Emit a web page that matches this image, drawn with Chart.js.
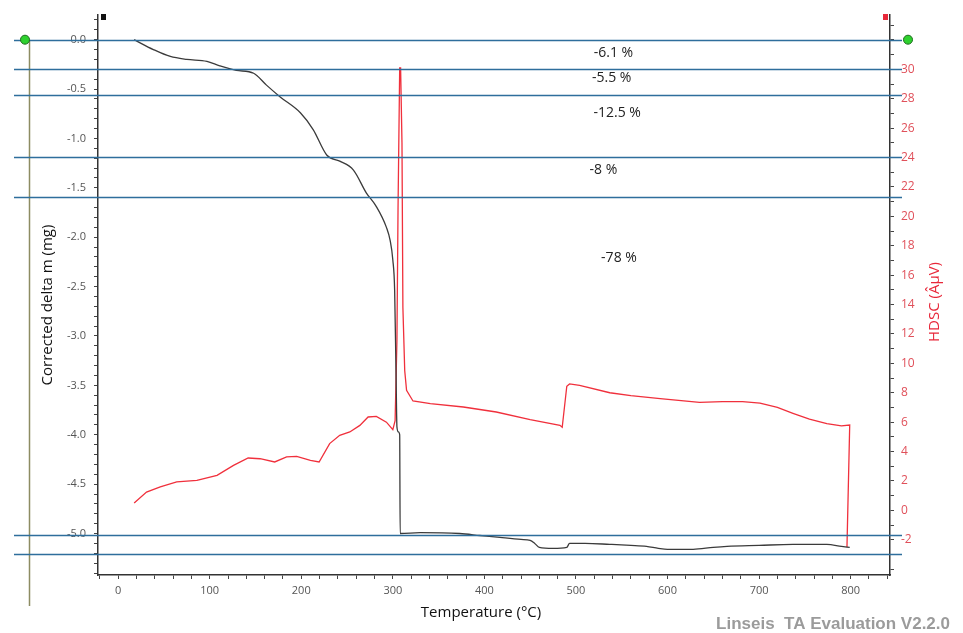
<!DOCTYPE html>
<html>
<head>
<meta charset="utf-8">
<title>TG / DSC</title>
<script src="https://cdn.jsdelivr.net/npm/chart.js@4.4.0/dist/chart.umd.min.js"></script>
<style>
  body { margin: 0; background: #fff; }
  canvas { display: block; }
</style>
</head>
<body>
<canvas id="chart" width="963" height="633"></canvas>
<script>
// TG curve: temperature (°C) and corrected delta m (mg)
const massTemp = [17.5, 38.5, 57, 75, 97, 111, 129, 148, 162, 177, 199, 213, 228, 242, 257, 271, 282, 293, 297, 300,
  302, 303.5, 304.5, 306, 307.5, 308, 330, 373, 395, 417, 440, 450, 455, 460, 475, 490, 493, 510, 537, 560,
  577, 590, 600, 628, 650, 665, 700, 737, 774, 790, 799];
const massValues = [0, -0.10, -0.17, -0.20, -0.22, -0.265, -0.31, -0.34, -0.46, -0.58, -0.74, -0.91, -1.17, -1.23, -1.32, -1.55, -1.69, -1.90, -2.03, -2.23,
  -2.54, -3.38, -3.92, -3.97, -4.0, -5.0, -4.99, -5.0, -5.02, -5.04, -5.06, -5.07, -5.10, -5.14, -5.15, -5.14, -5.10, -5.10, -5.11, -5.12,
  -5.13, -5.15, -5.16, -5.16, -5.14, -5.13, -5.12, -5.11, -5.11, -5.13, -5.14];

// DSC curve: temperature (°C) and HDSC signal
const dscTemp = [17.5, 31, 46, 64, 86, 108, 126, 142, 155, 171, 184, 195, 210, 219.5, 231, 242, 253, 264, 273, 282,
  293, 300, 302.5, 304.5, 305.7, 307.5, 308.5, 310, 311, 313, 315, 322, 341, 377, 413, 450, 482.5, 485, 490, 493,
  504, 537, 560, 592, 635, 660, 682, 701, 720, 737, 755, 774, 790, 799, 796];
const dscValues = [0.5, 1.24, 1.59, 1.93, 2.04, 2.38, 3.06, 3.56, 3.51, 3.29, 3.63, 3.67, 3.40, 3.29, 4.54, 5.10, 5.33, 5.78, 6.35, 6.39,
  6.0, 5.49, 6.1, 11.6, 20.6, 30.1, 30.1, 25, 13.8, 9.5, 8.16, 7.44, 7.26, 7.03, 6.69, 6.17, 5.78, 5.65, 8.44, 8.6,
  8.5, 8.0, 7.8, 7.6, 7.35, 7.4, 7.4, 7.3, 7.0, 6.6, 6.2, 5.9, 5.75, 5.8, -2.5];

// mass-loss steps: boundary levels (mg) and the step labels
const stepLevels = [0, -0.297, -0.558, -1.183, -1.589, -5.013, -5.205];
const stepLabels = ['-6.1 %', '-5.5 %', '-12.5 %', '-8 %', '-78 %'];
// where each label sits, in [temperature, mass] units
const stepLabelPos = [[541, -0.13], [539, -0.385], [545, -0.74], [530, -1.32], [547, -2.21]];

const FONT = '"Open Sans", "DejaVu Sans", sans-serif';

function toPoints(xs, ys) {
  return xs.map((x, i) => ({ x: x, y: ys[i] }));
}

const decorations = {
  id: 'decorations',
  afterDraw(chart) {
    const ctx = chart.ctx;
    const x = chart.scales.x;
    const y = chart.scales.y;
    const area = chart.chartArea;
    const top = y.getPixelForValue(0);
    ctx.save();

    // olive marker line on the far left
    ctx.strokeStyle = '#8d8c62';
    ctx.lineWidth = 1.5;
    ctx.beginPath();
    ctx.moveTo(29.5, top);
    ctx.lineTo(29.5, 606);
    ctx.stroke();

    // step boundary lines
    ctx.strokeStyle = '#2e6e9c';
    ctx.lineWidth = 1.4;
    stepLevels.forEach(v => {
      const py = Math.round(y.getPixelForValue(v)) + 0.5;
      ctx.beginPath();
      ctx.moveTo(14, py);
      ctx.lineTo(area.right + 12, py);
      ctx.stroke();
    });

    // green handles
    [25, 908].forEach(px => {
      ctx.beginPath();
      ctx.arc(px, top, 4.5, 0, Math.PI * 2);
      ctx.fillStyle = '#2ed12e';
      ctx.fill();
      ctx.strokeStyle = '#1d6b1d';
      ctx.lineWidth = 1;
      ctx.stroke();
    });

    // axis end squares
    ctx.fillStyle = '#111';
    ctx.fillRect(area.left + 3, area.top - 1, 5, 6);
    ctx.fillStyle = '#e8283a';
    ctx.fillRect(area.right - 7, area.top - 1, 5, 6);

    // step labels
    ctx.fillStyle = '#222';
    ctx.font = '14px ' + FONT;
    ctx.textAlign = 'center';
    ctx.textBaseline = 'middle';
    stepLabels.forEach((t, i) => {
      ctx.fillText(t, x.getPixelForValue(stepLabelPos[i][0]), y.getPixelForValue(stepLabelPos[i][1]));
    });

    // axis titles
    ctx.font = '15px ' + FONT;
    ctx.fillStyle = '#111';
    ctx.fillText('Temperature (°C)', 481, 613);

    ctx.save();
    ctx.translate(48, 305);
    ctx.rotate(-Math.PI / 2);
    ctx.fillText('Corrected delta m (mg)', 0, 0);
    ctx.restore();

    ctx.save();
    ctx.translate(935, 302);
    ctx.rotate(-Math.PI / 2);
    ctx.fillStyle = '#e8283a';
    ctx.fillText('HDSC (ÂµV)', 0, 0);
    ctx.restore();

    // software watermark
    ctx.font = 'bold 17px "Liberation Sans", Arial, sans-serif';
    ctx.fillStyle = '#9b9b9b';
    ctx.textAlign = 'right';
    ctx.textBaseline = 'alphabetic';
    ctx.fillText('Linseis  TA Evaluation V2.2.0', 950, 629);

    ctx.restore();
  }
};

const tickGrid = {
  display: true,
  drawOnChartArea: false,
  drawTicks: true,
  tickLength: 4,
  color: '#444'
};

new Chart(document.getElementById('chart'), {
  type: 'scatter',
  data: {
    datasets: [
      {
        label: 'Corrected delta m',
        data: toPoints(massTemp, massValues),
        yAxisID: 'y',
        showLine: true,
        borderColor: '#3b3b3b',
        borderWidth: 1.3,
        pointRadius: 0,
        cubicInterpolationMode: 'monotone'
      },
      {
        label: 'HDSC',
        data: toPoints(dscTemp, dscValues),
        yAxisID: 'y1',
        showLine: true,
        borderColor: '#f0303c',
        borderWidth: 1.3,
        pointRadius: 0,
        tension: 0
      }
    ]
  },
  options: {
    responsive: false,
    animation: false,
    layout: { padding: { top: 15, left: 0, right: 0, bottom: 0 } },
    plugins: {
      legend: { display: false },
      tooltip: { enabled: false }
    },
    scales: {
      x: {
        type: 'linear',
        min: -22,
        max: 843,
        grid: tickGrid,
        border: { display: true, color: '#333', width: 1.5 },
        ticks: {
          stepSize: 20,
          includeBounds: false,
          autoSkip: false,
          maxRotation: 0,
          padding: 5,
          color: '#555',
          font: { size: 11, family: FONT },
          callback: v => (v % 100 === 0 ? v : '')
        },
        afterFit: s => { s.height = 58; }
      },
      y: {
        position: 'left',
        min: -5.42,
        max: 0.25,
        grid: tickGrid,
        border: { display: true, color: '#333', width: 1.5 },
        ticks: {
          stepSize: 0.1,
          includeBounds: false,
          autoSkip: false,
          padding: 8,
          color: '#555',
          font: { size: 11, family: FONT },
          callback: v => {
            const r = Math.round(v * 10);
            return r % 5 === 0 ? (r / 10).toFixed(1) : '';
          }
        },
        afterFit: s => { s.width = 98; }
      },
      y1: {
        position: 'right',
        min: -4.4,
        max: 33.7,
        grid: tickGrid,
        border: { display: true, color: '#333', width: 1.5 },
        ticks: {
          stepSize: 1,
          includeBounds: false,
          autoSkip: false,
          padding: 7,
          color: '#e0505a',
          font: { size: 12, family: FONT },
          callback: v => (v % 2 === 0 && v >= -2 && v <= 30 ? v : '')
        },
        afterFit: s => { s.width = 73; }
      }
    }
  },
  plugins: [decorations]
});
</script>
</body>
</html>
